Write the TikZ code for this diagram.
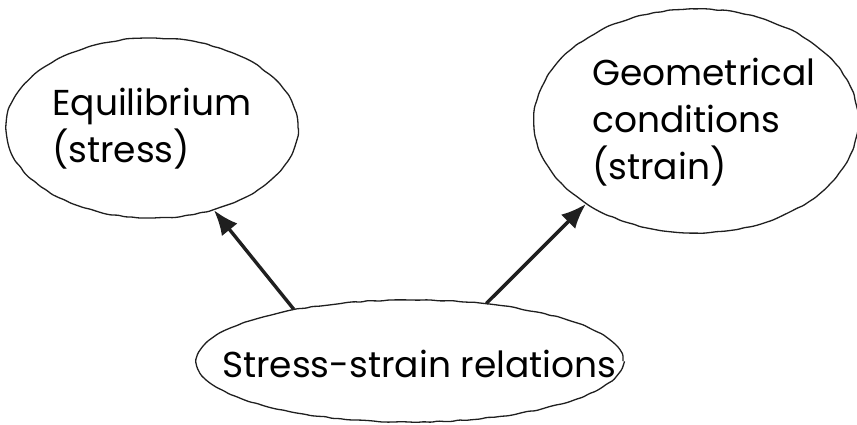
\documentclass[tikz,border=0pt]{standalone}
\usepackage{fontspec}
\setmainfont{Poppins}
\usetikzlibrary{shapes.geometric}
\usetikzlibrary{arrows.meta}
\usetikzlibrary{decorations.pathmorphing}

\begin{document}
\begin{tikzpicture}[x=1pt,y=-1pt,
    bubble/.style={ellipse,draw=black!88,line width=1.3pt,decorate,
        decoration={random steps,segment length=7pt,amplitude=0.6pt},rounded corners=1.5pt},
    lbl/.style={anchor=base west,align=left,inner sep=0pt,
        font=\fontsize{36}{47}\selectfont},
    link/.style={-{Latex[length=25pt,width=20pt]},line width=3.4pt,black!88}]
        \useasboundingbox (0,0) rectangle (857,424);
        % the three ellipses
        \node[bubble,minimum width=292pt,minimum height=180pt] (equil) at (152,128) {};
        \node[bubble,minimum width=324pt,minimum height=224pt] (geom) at (696,121) {};
        \node[bubble,minimum width=426pt,minimum height=122pt] (rel) at (410,361) {};
        % texts (base = last line)
        \node[lbl] (equiltxt) at (52,162) {Equilibrium\\(stress)};
        \node[lbl] (geomtxt) at (592,179) {Geometrical\\conditions\\(strain)};
        \node[lbl] (reltxt) at (222,377) {Stress-strain relations};
        % arrows
        \draw[link] (rel.156) -- (equil.-53);
        \draw[link] (rel.37) -- (geom.-143);
    \end{tikzpicture}
\end{document}
